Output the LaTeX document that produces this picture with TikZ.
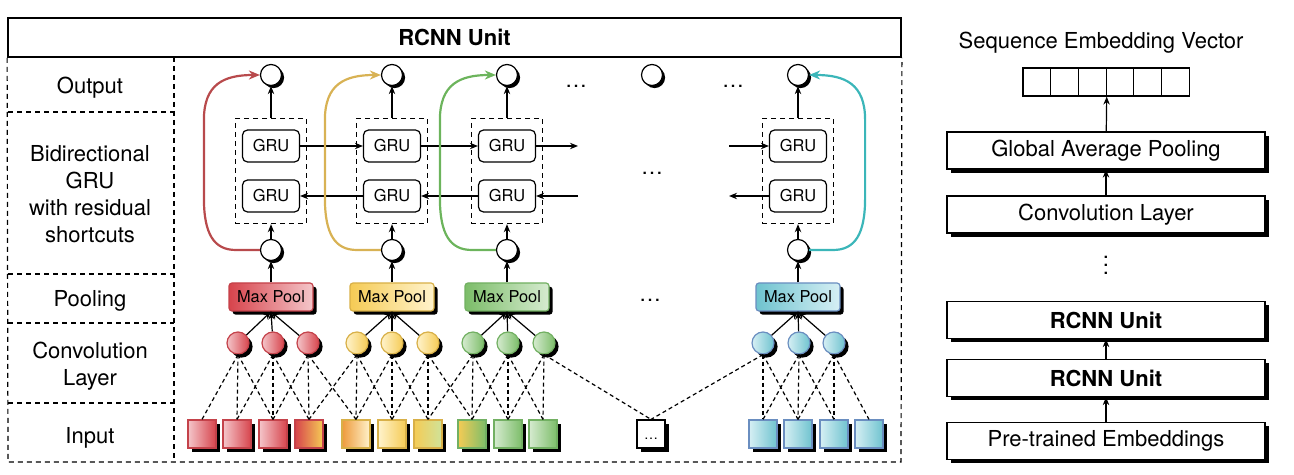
\documentclass[tikz,border=0pt]{standalone}
\usepackage{fontspec}
\setmainfont{TeX Gyre Heros}
\usetikzlibrary{arrows.meta,shadows,fit}

\definecolor{rcnnRed}{HTML}{D7444C}
\definecolor{rcnnRedL}{HTML}{F4C6CA}
\definecolor{rcnnRedB}{HTML}{C4424A}
\definecolor{rcnnYel}{HTML}{F5CB55}
\definecolor{rcnnYelL}{HTML}{FFF3CC}
\definecolor{rcnnYelB}{HTML}{D8B048}
\definecolor{rcnnOra}{HTML}{EE9A3C}
\definecolor{rcnnLime}{HTML}{CFE39A}
\definecolor{rcnnGrn}{HTML}{7CBD69}
\definecolor{rcnnGrnL}{HTML}{D6EBD0}
\definecolor{rcnnGrnB}{HTML}{72B062}
\definecolor{rcnnBlu}{HTML}{6FC3CF}
\definecolor{rcnnBluL}{HTML}{D6EFF4}
\definecolor{rcnnBluB}{HTML}{6A8EC0}
\definecolor{resRed}{HTML}{B84A4C}
\definecolor{resYel}{HTML}{D8B254}
\definecolor{resGrn}{HTML}{6CB45C}
\definecolor{resBlu}{HTML}{3BB6B9}

\begin{document}
\begin{tikzpicture}[x=0.5pt,y=-0.5pt,
lbl/.style={font=\fontsize{11}{13.4}\selectfont,align=center},
small/.style={font=\fontsize{8.2}{10}\selectfont},
frame/.style={line width=0.6pt,dash pattern=on 2.5pt off 2pt},
shadowed/.style={drop shadow={shadow xshift=1.8pt,shadow yshift=-1.8pt,fill=black,opacity=1}},
state/.style={circle,draw,fill=white,line width=0.6pt,minimum size=10.5pt,inner sep=0pt,
  drop shadow={shadow xshift=1.3pt,shadow yshift=-1.3pt,fill=black,opacity=1}},
gru/.style={small,draw,fill=white,rounded corners=2.5pt,line width=0.6pt,minimum width=28.5pt,minimum height=16pt,inner sep=0pt},
birnn/.style={draw,frame,inner xsep=3.25pt,inner ysep=5.5pt},
pool/.style={small,shadowed,rounded corners=1.5pt,line width=0.6pt,minimum width=42pt,minimum height=14pt,inner sep=0pt},
conv/.style={circle,shadowed,line width=0.6pt,minimum size=11pt,inner sep=0pt},
token/.style={shadowed,line width=0.6pt,minimum size=14pt,inner sep=0pt},
layer/.style={lbl,draw,fill=white,shadowed,line width=0.6pt,minimum width=159pt,minimum height=18.5pt,inner sep=0pt},
link/.style={line width=0.6pt,-{Stealth[length=4pt,width=3.2pt]}},
window/.style={line width=0.6pt,dash pattern=on 2pt off 1.5pt},
shortcut/.style={line width=1.1pt,-{Stealth[length=5.5pt,width=4.5pt]}}]
\useasboundingbox (0,0) rectangle (1294,475);

% RCNN unit frame
\node[draw,line width=0.9pt,minimum width=446.5pt,minimum height=19.5pt,inner sep=0pt,
  font=\fontsize{11}{13}\selectfont\bfseries] (head) at (454.5,37.5) {RCNN Unit};
\draw[frame] (head.south west) -- (8,462) -- (901,462) -- (head.south east);
\draw[frame] (174,57) -- (174,462);
\foreach \y in {112,274,323,403} \draw[frame] (8,\y) -- (174,\y);

\node[lbl] (lout) at (90,88) {Output};
\node[lbl] (lgru) at (90,194) {Bidirectional\\GRU\\with residual\\shortcuts};
\node[lbl] (lpool) at (90,301) {Pooling};
\node[lbl] (lconv) at (90,366) {Convolution\\Layer};
\node[lbl] (linp) at (90,438) {Input};

% input
\foreach \i/\x/\l/\r/\b in {1/202/rcnnRedL/rcnnRed/rcnnRedB,2/237/rcnnRedL/rcnnRed/rcnnRedB,
  3/273/rcnnRedL/rcnnRed/rcnnRedB,4/309/rcnnRed/rcnnYel/rcnnRedB,5/356/rcnnOra/rcnnYelL/rcnnYelB,
  6/392/rcnnYelL/rcnnYel/rcnnYelB,7/428/rcnnYel/rcnnLime/rcnnYelB,8/472/rcnnYel/rcnnGrn/rcnnGrnB,
  9/508/rcnnGrnL/rcnnGrn/rcnnGrnB,10/543/rcnnGrnL/rcnnGrn/rcnnGrnB,12/763/rcnnBluL/rcnnBlu/rcnnBluB,
  13/798/rcnnBluL/rcnnBlu/rcnnBluB,14/834/rcnnBluL/rcnnBlu/rcnnBluB,15/869/rcnnBluL/rcnnBlu/rcnnBluB}
  \node[token,left color=\l,right color=\r,draw=\b] (q\i) at (\x,434) {};
\node[token,draw,fill=white,font=\fontsize{7}{8}\selectfont,text height=5pt] (q11) at (651,434) {\dots};

% convolution
\foreach \k/\x/\l/\r/\b in {2/238/rcnnRedL/rcnnRed/rcnnRedB,3/273/rcnnRedL/rcnnRed/rcnnRedB,
  4/308/rcnnRedL/rcnnRed/rcnnRedB,5/357/rcnnYelL/rcnnYel/rcnnYelB,6/392/rcnnYelL/rcnnYel/rcnnYelB,
  7/428/rcnnYelL/rcnnYel/rcnnYelB,8/473/rcnnGrnL/rcnnGrn/rcnnGrnB,9/508/rcnnGrnL/rcnnGrn/rcnnGrnB,
  10/544/rcnnGrnL/rcnnGrn/rcnnGrnB,12/763/rcnnBluL/rcnnBlu/rcnnBluB,13/799/rcnnBluL/rcnnBlu/rcnnBluB,
  14/834/rcnnBluL/rcnnBlu/rcnnBluB}
  \node[conv,left color=\l,right color=\r,draw=\b] (c\k) at (\x,343) {};
\foreach \k in {2,...,10,12,13,14}
  \foreach \d in {-1,0,1}{
    \pgfmathtruncatemacro\j{\k+\d}
    \draw[window] (c\k.south) -- (q\j.north);
  }

% pooling
\foreach \p/\x/\l/\r/\b in {1/271/rcnnRed/rcnnRedL/rcnnRedB,2/392/rcnnYel/rcnnYelL/rcnnYelB,
  3/507/rcnnGrn/rcnnGrnL/rcnnGrnB,4/798/rcnnBlu/rcnnBluL/rcnnBluB}
  \node[pool,left color=\l,right color=\r,draw=\b] (mp\p) at (\x,297) {Max Pool};
\node[lbl] (pdots) at (650,300) {\dots};
\foreach \p/\a/\b/\c in {1/2/3/4,2/5/6/7,3/8/9/10,4/12/13/14}
  \foreach \k in {\a,\b,\c} \draw[link] (c\k) -- (mp\p.south);

% bidirectional GRU and outputs
\foreach \p/\x in {1/271,2/392,3/507,4/798}{
  \node[state] (h\p) at (\x,250) {};
  \node[gru] (gf\p) at (\x,146) {GRU};
  \node[gru] (gb\p) at (\x,196) {GRU};
  \node[birnn,fit=(gf\p)(gb\p)] (bi\p) {};
  \node[state] (o\p) at (\x,75) {};
  \draw[link] (mp\p) -- (h\p);
  \draw[link] (h\p) -- (bi\p);
  \draw[link] (bi\p) -- (o\p);
}
\node[state] (o5) at (652,75) {};
\node[lbl] (odots1) at (576,86) {\dots};
\node[lbl] (odots2) at (733,86) {\dots};
\node[lbl] (gdots) at (652,173) {\dots};

\coordinate (fwdout) at (578,146);
\coordinate (bwdin) at (578,196);
\coordinate (fwdin) at (729,146);
\coordinate (bwdout) at (729,196);
\draw[link] (gf1) -- (gf2);
\draw[link] (gf2) -- (gf3);
\draw[link] (gf3) -- (fwdout);
\draw[link] (fwdin) -- (gf4);
\draw[link] (gb2) -- (gb1);
\draw[link] (gb3) -- (gb2);
\draw[link] (bwdin) -- (gb3);
\draw[link] (gb4) -- (bwdout);

% residual shortcuts
\foreach \p/\c in {1/resRed,2/resYel,3/resGrn}
  \draw[shortcut,\c] (h\p.west) -- ++(-24,0) .. controls +(-22,0) and +(0,36) .. ++(-32,-52)
    -- ++(0,-78) .. controls +(0,-36) and +(-36,0) .. (o\p.west);
\draw[shortcut,resBlu] (h4.east) -- ++(24,0) .. controls +(22,0) and +(0,36) .. ++(32,-52)
  -- ++(0,-78) .. controls +(0,-36) and +(36,0) .. (o4.east);

% whole model
\node[lbl] (svtitle) at (1101,43) {Sequence Embedding Vector};
\foreach \i in {1,...,6}
  \node[draw,line width=0.6pt,minimum width=13.85pt,minimum height=14pt,inner sep=0pt] (v\i) at ({1023+27.7*(\i-0.5)},82) {};
\node[layer] (gap) at (1106,150.5) {Global Average Pooling};
\node[layer] (cl) at (1106,214.5) {Convolution Layer};
\node[lbl] (vd) at (1106,259) {\vdots};
\node[layer,font=\fontsize{11}{13}\selectfont\bfseries] (ru2) at (1106,320) {RCNN Unit};
\node[layer,font=\fontsize{11}{13}\selectfont\bfseries] (ru1) at (1106,378) {RCNN Unit};
\node[layer] (pte) at (1106,441) {Pre-trained Embeddings};
\draw[link] (gap) -- (v3.south east);
\draw[link] (cl) -- (gap);
\draw[link] (ru1) -- (ru2);
\draw[link] (pte) -- (ru1);
\end{tikzpicture}
\end{document}
